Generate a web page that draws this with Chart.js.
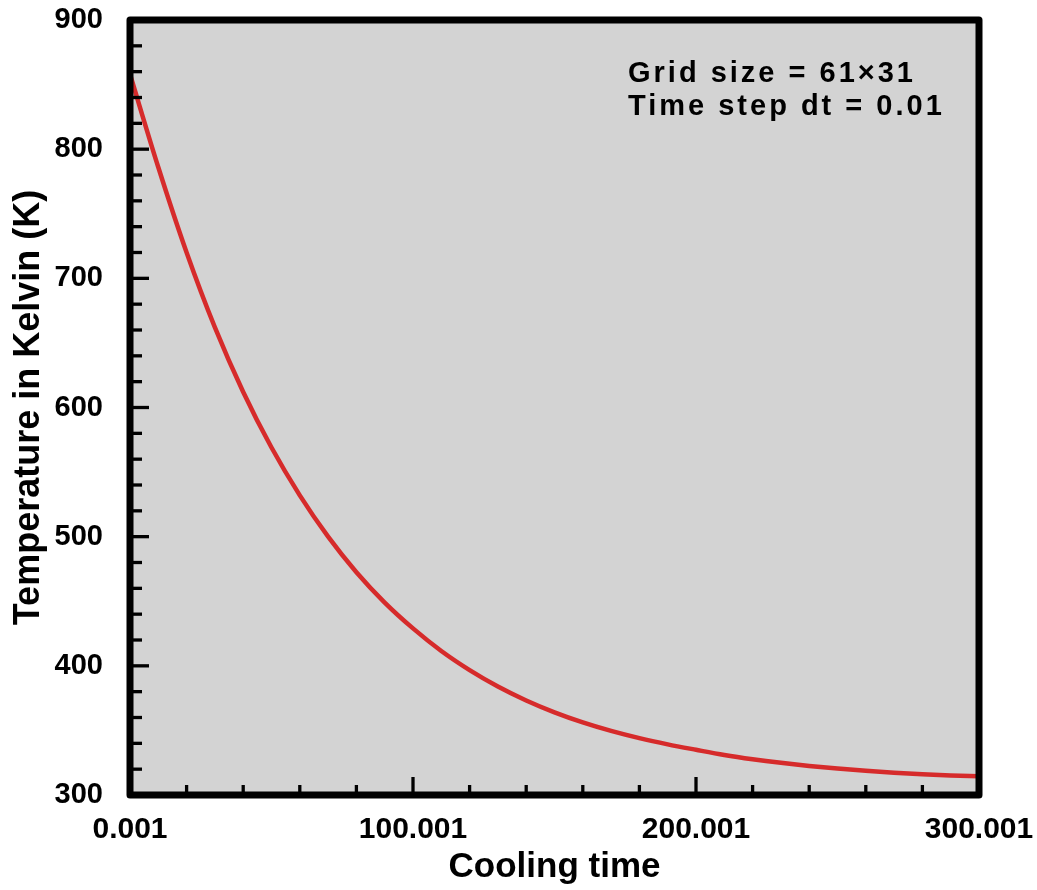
<!DOCTYPE html>
<html>
<head>
<meta charset="utf-8">
<script src="https://cdn.jsdelivr.net/npm/chart.js@4.4.1/dist/chart.umd.min.js"></script>
<style>
  html, body { margin: 0; padding: 0; background: #ffffff; }
  #wrap { width: 1037px; height: 890px; }
</style>
</head>
<body>
<div id="wrap"><canvas id="c" width="1037" height="890"></canvas></div>
<script>
// ---- Data ----
const coolingTimes = [0.001, 10, 20, 30, 40, 50, 60, 70, 80, 90, 100, 110, 120, 130, 140, 150, 160, 170, 180, 190, 200, 210, 220, 230, 240, 250, 260, 270, 280, 290, 300.001];
const temperatures = [858, 786, 720, 662, 612, 569, 532, 500, 472.5, 449, 429, 411.5, 396.7, 384, 373.2, 364, 356.2, 349.6, 344, 339.2, 335, 331, 327.7, 324.9, 322.5, 320.5, 318.7, 317.2, 316, 315.1, 314.5];
const xTickValues = [0.001, 100.001, 200.001, 300.001];
const xTickLabels = ['0.001', '100.001', '200.001', '300.001'];
const yTickValues = [300, 400, 500, 600, 700, 800, 900];
const annotationLines = ['Grid size = 61\u00d731', 'Time step dt = 0.01'];
const xTitle = 'Cooling time';
const yTitle = 'Temperature in Kelvin (K)';
const xMinorStep = 20;
const yMinorStep = 20;

const FONT = '"Liberation Sans", Arial, Helvetica, sans-serif';

const framePlugin = {
  id: 'frame',
  beforeDraw(chart) {
    const { ctx, chartArea: a } = chart;
    ctx.save();
    ctx.fillStyle = '#d3d3d3';
    ctx.fillRect(a.left, a.top, a.right - a.left, a.bottom - a.top);
    ctx.restore();
  },
  afterDatasetsDraw(chart) {
    const { ctx, chartArea: a, scales } = chart;
    const xs = scales.x, ys = scales.y;
    ctx.save();
    ctx.strokeStyle = '#000';
    ctx.lineCap = 'butt';
    ctx.lineWidth = 3.3;
    for (let v = ys.min; v <= ys.max + 1e-9; v += yMinorStep) {
      const major = yTickValues.some(t => Math.abs(t - v) < 1e-6);
      const py = ys.getPixelForValue(v);
      ctx.beginPath();
      ctx.moveTo(a.left, py);
      ctx.lineTo(a.left + (major ? 19 : 12), py);
      ctx.stroke();
    }
    for (let v = xs.min; v <= xs.max + 1e-9; v += xMinorStep) {
      const major = xTickValues.some(t => Math.abs(t - v) < 1e-6);
      const px = xs.getPixelForValue(v);
      ctx.beginPath();
      ctx.moveTo(px, a.bottom);
      ctx.lineTo(px, a.bottom - (major ? 18 : 10));
      ctx.stroke();
    }
    ctx.lineWidth = 7;
    ctx.lineJoin = 'round';
    ctx.strokeRect(a.left, a.top, a.right - a.left, a.bottom - a.top);
    ctx.restore();
  },
  afterDraw(chart) {
    const { ctx } = chart;
    ctx.save();
    ctx.fillStyle = '#000';
    ctx.font = 'bold 29px ' + FONT;
    ctx.textAlign = 'left';
    ctx.textBaseline = 'alphabetic';
    try { ctx.letterSpacing = '3px'; } catch (e) {}
    ctx.fillText(annotationLines[0], 628, 82);
    ctx.fillText(annotationLines[1], 628, 115);
    ctx.restore();
  }
};

new Chart(document.getElementById('c'), {
  type: 'line',
  data: {
    datasets: [{
      data: coolingTimes.map((t, i) => ({ x: t, y: temperatures[i] })),
      borderColor: 'rgba(214, 28, 28, 0.92)',
      borderWidth: 4.5,
      pointRadius: 0,
      fill: false,
      cubicInterpolationMode: 'monotone'
    }]
  },
  options: {
    responsive: false,
    animation: false,
    events: [],
    layout: { padding: { top: 20, right: 58, left: 0, bottom: 0 } },
    plugins: { legend: { display: false }, tooltip: { enabled: false } },
    scales: {
      x: {
        type: 'linear',
        min: 0.001,
        max: 300.001,
        afterBuildTicks: s => { s.ticks = xTickValues.map(v => ({ value: v })); },
        afterFit: s => { s.height = 95; s.paddingLeft = 0; s.paddingRight = 0; },
        grid: { display: false, drawTicks: false },
        border: { display: false },
        ticks: {
          autoSkip: false,
          maxRotation: 0,
          padding: 17,
          color: '#000',
          font: { family: FONT, size: 30, weight: 'bold' },
          callback: (v, i) => xTickLabels[i]
        },
        title: {
          display: true,
          text: xTitle,
          color: '#000',
          font: { family: FONT, size: 35, weight: 'bold' },
          padding: { top: 0, bottom: 2 }
        }
      },
      y: {
        type: 'linear',
        min: 300,
        max: 900,
        afterBuildTicks: s => { s.ticks = yTickValues.map(v => ({ value: v })); },
        afterFit: s => { s.width = 130; s.paddingTop = 0; s.paddingBottom = 0; },
        grid: { display: false, drawTicks: false },
        border: { display: false },
        ticks: {
          autoSkip: false,
          padding: 27,
          color: '#000',
          font: { family: FONT, size: 29, weight: 'bold' },
          callback: v => String(v)
        },
        title: {
          display: true,
          text: yTitle,
          color: '#000',
          font: { family: FONT, size: 36, weight: 'bold' },
          padding: { top: 7, bottom: 0 }
        }
      }
    }
  },
  plugins: [framePlugin]
});
</script>
</body>
</html>
